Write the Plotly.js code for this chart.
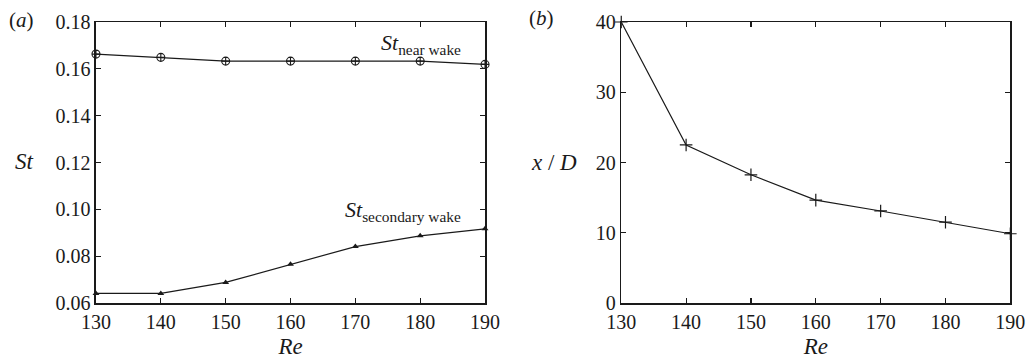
<!DOCTYPE html>
<html>
<head>
<meta charset="utf-8">
<script src="https://cdn.plot.ly/plotly-3.0.1.min.js"></script>
<style>
  html, body { margin: 0; padding: 0; background: #fff; }
  #chart { width: 1032px; height: 364px; }
  /* keep every chart text (and Plotly's text measurer) in the serif face */
  svg text, svg tspan { font-family: 'Liberation Serif' !important; }
</style>
</head>
<body>
<div id="chart"></div>
<script>
// Reynolds numbers shared by both panels
const reynolds = [130, 140, 150, 160, 170, 180, 190];

// (a) Strouhal numbers of the near wake and the secondary wake
const stNearWake = [0.1663, 0.1649, 0.1633, 0.1633, 0.1633, 0.1633, 0.1619];
const stSecondaryWake = [0.0641, 0.0641, 0.0688, 0.0765, 0.0841, 0.0887, 0.0917];

// (b) streamwise position x/D of the secondary wake onset
const onsetXD = [40.0, 22.5, 18.25, 14.65, 13.1, 11.5, 9.86];

const xTicks = [130, 140, 150, 160, 170, 180, 190];
const stTicks = [0.06, 0.08, 0.10, 0.12, 0.14, 0.16, 0.18];
const stTickText = ['0.06', '0.08', '0.10', '0.12', '0.14', '0.16', '0.18'];
const xdTicks = [0, 10, 20, 30, 40];

const serif = 'Liberation Serif';
const ink = '#1a1a1a';

function font(size) {
  return {family: serif, size: size, color: ink};
}

// boxed axes with inward ticks on all four sides
function axis(extra) {
  return Object.assign({
    showline: true, linecolor: ink, linewidth: 1.5, mirror: 'ticks',
    ticks: 'inside', ticklen: 5, tickwidth: 1.2, tickcolor: ink,
    showgrid: false, zeroline: false,
    tickfont: font(20)
  }, extra);
}

const traces = [
  {
    x: reynolds, y: stNearWake, xaxis: 'x', yaxis: 'y',
    mode: 'lines+markers', line: {color: ink, width: 1.2},
    marker: {symbol: 'circle-cross-open', size: 8, color: ink, line: {width: 1.1, color: ink}},
    cliponaxis: false
  },
  {
    x: reynolds, y: stSecondaryWake, xaxis: 'x', yaxis: 'y',
    mode: 'lines+markers', line: {color: ink, width: 1.2},
    marker: {symbol: 'triangle-up', size: 6, color: ink},
    cliponaxis: false
  },
  {
    x: reynolds, y: onsetXD, xaxis: 'x2', yaxis: 'y2',
    mode: 'lines+markers', line: {color: ink, width: 1.2},
    marker: {symbol: 'cross-thin-open', size: 9, color: ink, line: {width: 1.2, color: ink}},
    cliponaxis: false
  }
];

const layout = {
  width: 1032, height: 364,
  margin: {l: 0, r: 0, t: 22, b: 61},
  paper_bgcolor: '#fff', plot_bgcolor: '#fff',
  showlegend: false,
  font: font(16),
  xaxis: axis({
    domain: [0.093, 0.470], range: [130, 190], tickvals: xTicks, anchor: 'y',
    title: {text: '<i>Re</i>', font: font(23), standoff: 6}
  }),
  yaxis: axis({
    domain: [0, 1], range: [0.06, 0.18], tickvals: stTicks, ticktext: stTickText, anchor: 'x'
  }),
  xaxis2: axis({
    domain: [0.602, 0.979], range: [130, 190], tickvals: xTicks, anchor: 'y2',
    title: {text: '<i>Re</i>', font: font(23), standoff: 6}
  }),
  yaxis2: axis({
    domain: [0, 1], range: [0, 40], tickvals: xdTicks, anchor: 'x2'
  }),
  annotations: [
    {xref: 'paper', yref: 'paper', x: 0.007, y: 1.008, xanchor: 'left', yanchor: 'middle',
     text: '(<i>a</i>)', showarrow: false, font: font(21)},
    {xref: 'paper', yref: 'paper', x: 0.511, y: 1.014, xanchor: 'left', yanchor: 'middle',
     text: '(<i>b</i>)', showarrow: false, font: font(21)},
    {xref: 'paper', yref: 'paper', x: 0.013, y: 0.502, xanchor: 'left', yanchor: 'middle',
     text: '<i>St</i>', showarrow: false, font: font(23)},
    {xref: 'paper', yref: 'paper', x: 0.513, y: 0.50, xanchor: 'left', yanchor: 'middle',
     text: '<i>x</i> / <i>D</i>', showarrow: false, font: font(23)},
    {xref: 'x', yref: 'y', x: 180.2, y: 0.1705, xanchor: 'center', yanchor: 'middle',
     text: '<i>St</i><sub>near wake</sub>', showarrow: false, font: font(22)},
    {xref: 'x', yref: 'y', x: 177.35, y: 0.0995, xanchor: 'center', yanchor: 'middle',
     text: '<i>St</i><sub>secondary wake</sub>', showarrow: false, font: font(22)}
  ]
};

Plotly.newPlot('chart', traces, layout, {displayModeBar: false, staticPlot: true});
</script>
</body>
</html>
